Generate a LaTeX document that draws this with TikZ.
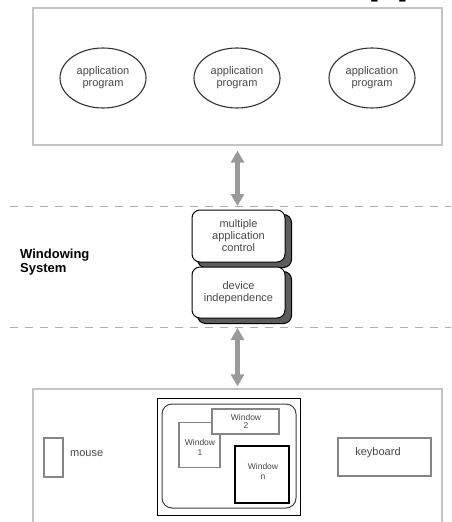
\documentclass[tikz,border=0pt]{standalone}
\usepackage{fontspec}
\setmainfont{Liberation Sans}
\usetikzlibrary{arrows.meta,shapes.geometric,backgrounds}
\definecolor{txtgray}{HTML}{484848}
\definecolor{boxgray}{HTML}{C4C4C4}
\definecolor{arrgray}{HTML}{9A9A9A}
\definecolor{dashgray}{HTML}{AEAEAE}
\definecolor{shadowgray}{HTML}{5C5C5C}
\definecolor{wingray}{HTML}{858585}
\begin{document}
\begin{tikzpicture}[x=1pt,y=-1pt,
  txt/.style={font=\fontsize{11}{12}\selectfont, text=txtgray, align=center},
  small/.style={font=\fontsize{8.5}{10}\selectfont, text=txtgray, align=center, inner sep=0pt},
  area/.style={rectangle, draw=boxgray, line width=1.3pt, minimum width=409pt, inner sep=0pt},
  app/.style={ellipse, draw=black!80, line width=1.1pt, minimum width=86pt, minimum height=60pt, inner sep=0pt, txt},
  wsbox/.style={rectangle, rounded corners=8pt, draw=black, line width=1pt, fill=white, minimum width=93pt, inner sep=0pt, txt},
  wsshadow/.style={draw=black, fill=shadowgray, line width=1pt, rounded corners=8pt},
  bigarrow/.style={draw=arrgray, line width=5pt, {Triangle[width=13pt,length=12pt]}-{Triangle[width=13pt,length=12pt]}},
  sep/.style={draw=dashgray, line width=1pt, dash pattern=on 8pt off 7pt},
  win/.style={rectangle, draw=wingray, line width=1.3pt, fill=white, inner sep=0pt},
  dev/.style={rectangle, draw=wingray, line width=1.3pt, inner sep=0pt}
]
\useasboundingbox (0,0) rectangle (451,522);

% cropped title fragment at the top edge
\begin{scope}
  \clip (0,0) rectangle (451,522);
  \node[anchor=base west, inner sep=0pt, font=\fontsize{46}{46}\bfseries\selectfont] (title) at (368,-7) {pp};
\end{scope}

% application layer
\node[area, minimum height=137pt] (top) at (237.5,76.5) {};
\node[app] (app1) at (103,78) {application\\program};
\node[app] (app2) at (237,78) {application\\program};
\node[app] (app3) at (372,78) {application\\program};

% separators
\coordinate (d1l) at (10,206);
\coordinate (d1r) at (451,206);
\coordinate (d1c) at (237.5,206);
\coordinate (d2l) at (10,327);
\coordinate (d2r) at (451,327);
\coordinate (d2c) at (237.5,328);
\draw[sep] (d1l) -- (d1r);
\draw[sep] (d2l) -- (d2r);

% windowing system
\node[anchor=west, align=left, inner sep=0pt, font=\fontsize{13}{14}\bfseries\selectfont] (wsys) at (20,262) {Windowing\\System};
\node[wsbox, minimum height=52pt] (mac) at (238.5,236) {multiple\\application\\control};
\node[wsbox, minimum height=51pt] (devi) at (238.5,292.5) {device\\independence};

% hardware layer
\node[area, minimum height=151pt] (bot) at (237.5,464.5) {};
\node[rectangle, draw=black, line width=1pt, minimum width=143pt, minimum height=117pt, inner sep=0pt] (screen) at (228.5,456.5) {};
\node[rectangle, draw=black!75, line width=1pt, rounded corners=10pt, minimum width=134pt, minimum height=104pt, inner sep=0pt] (desk) at (229,456) {};
\node[win, minimum width=41pt, minimum height=45pt] (w1) at (199.5,445) {};
\node[small] (w1lbl) at (200,447) {Window\\1};
\node[win, minimum width=67pt, minimum height=25pt] (w2) at (245.5,421.5) {};
\node[small, font=\fontsize{8.5}{8.5}\selectfont] (w2lbl) at (246,421.5) {Window\\2};
\node[win, draw=black, line width=2pt, minimum width=54pt, minimum height=57pt] (wn) at (262,474.5) {};
\node[small] (wnlbl) at (263,471) {Window\\n};
\node[dev, minimum width=19pt, minimum height=39pt] (mouse) at (53.5,457.5) {};
\node[txt, anchor=west, inner sep=0pt] (mouselbl) at (70,454) {mouse};
\node[dev, minimum width=93pt, minimum height=38pt] (kbd) at (384.5,457) {};
\node[txt, inner sep=0pt] (kbdlbl) at (378,453) {keyboard};

% background fill and drop shadows
\begin{scope}[on background layer]
  \fill[white] (0,0) rectangle (451,522);
  \draw[wsshadow] ([shift={(6,5)}]mac.south west) rectangle ([shift={(6,5)}]mac.north east);
  \draw[wsshadow] ([shift={(6,5)}]devi.south west) rectangle ([shift={(6,5)}]devi.north east);
\end{scope}

% connectors
\draw[bigarrow] ([yshift=-5pt]top.south) -- (d1c);
\draw[bigarrow] (d2c) -- ([yshift=2pt]bot.north);
\end{tikzpicture}
\end{document}
